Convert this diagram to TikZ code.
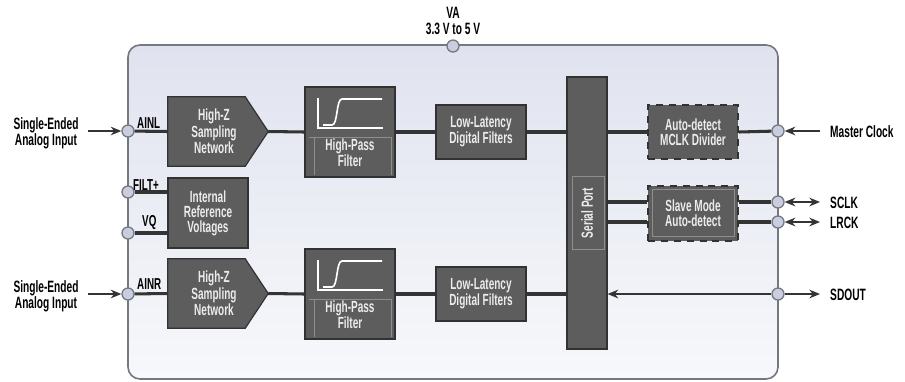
\documentclass[tikz,border=0pt]{standalone}
\usepackage{fontspec}
\setmainfont{Liberation Sans}[FakeStretch=0.62]
\usetikzlibrary{arrows.meta, positioning, calc}
\definecolor{blkfill}{RGB}{93, 93, 93}
\definecolor{blkedge}{RGB}{50, 50, 50}
\definecolor{blktext}{RGB}{236, 236, 236}
\definecolor{chipedge}{RGB}{118, 120, 128}
\definecolor{chiptop}{RGB}{224, 227, 239}
\definecolor{chipbot}{RGB}{247, 248, 251}
\definecolor{pinfill}{RGB}{200, 205, 224}
\definecolor{wirec}{RGB}{52, 52, 52}

\begin{document}
\begin{tikzpicture}[x=0.03cm, y=-0.03cm,
    lbl/.style={font=\fontsize{14}{13.8}\selectfont\bfseries, align=center, inner sep=0pt},
    plbl/.style={font=\fontsize{13.5}{13}\selectfont\bfseries, anchor=west, inner sep=0pt},
    blk/.style={draw=blkedge, fill=blkfill, line width=1pt, text=blktext,
        font=\fontsize{13.8}{12.8}\selectfont\bfseries, align=center, inner sep=0pt},
    dblk/.style={blk, line width=1.7pt, dash pattern=on 6pt off 5pt},
    inner/.style={draw=blkfill!70!white, line width=0.4pt},
    pin/.style={circle, draw=chipedge, fill=pinfill, line width=1.1pt, minimum size=0.36cm, inner sep=0pt},
    wire/.style={draw=wirec, line width=2.6pt},
    sig/.style={draw=wirec, line width=2.2pt, -{Stealth[length=0.32cm, width=0.26cm]}},
    icon/.style={draw=white, line width=1.4pt}
  ]
  \useasboundingbox (0,0) rectangle (905,381);

  % chip outline
  \draw[chipedge, line width=1.4pt, top color=chiptop, bottom color=chipbot, rounded corners=0.36cm]
    (128,45) rectangle (778,379);

  % blocks
  \node (hzL) [minimum width=3cm, minimum height=2.07cm, inner sep=0pt] at (218,131.5) {};
  \node (hzR) [minimum width=3cm, minimum height=2.07cm, inner sep=0pt] at (218,293.5) {};
  \foreach \h in {hzL,hzR} {
    \draw[blk] (\h.north west) -- ($(\h.north east)+(-23,0)$) -- (\h.east)
      -- ($(\h.south east)+(-23,0)$) -- (\h.south west) -- cycle;
    \node[blk, draw=none, fill=none] (\h t) at ($(\h.center)+(-4,0)$) {High-Z\\Sampling\\Network};
  }
  \node[blk, minimum width=2.7cm, minimum height=2.7cm] (hpfL) at (350,132) {};
  \node[blk, minimum width=2.7cm, minimum height=2.7cm] (hpfR) at (350,294) {};
  \foreach \f in {hpfL,hpfR} {
    \begin{scope}[shift={(\f.center)}]
      \draw[icon] (-32,-34) -- (-32,-4) -- (33,-4);
      \draw[icon] (-27,-7) -- (-18,-7) .. controls (-12,-7) and (-14,-33) .. (-8,-33) -- (32,-33);
      \draw[inner] (-41,5) -- (42,5);
      \draw[inner] (-36,5) -- (-36,43);
      \draw[inner] (41,5) -- (41,43);
    \end{scope}
    \node[blk, draw=none, fill=none] (\f t) at ($(\f.center)+(0,21)$) {High-Pass\\Filter};
  }
  \node[blk, minimum width=2.7cm, minimum height=1.62cm] (lldL) at (481,132) {Low-Latency\\Digital Filters};
  \node[blk, minimum width=2.7cm, minimum height=1.62cm] (lldR) at (481,294) {Low-Latency\\Digital Filters};
  \node[blk, minimum width=1.2cm, minimum height=8.16cm] (sp) at (587,213) {};
  \draw[inner] ($(sp.center)+(-15,-37)$) rectangle ($(sp.center)+(17,36)$);
  \node[blk, draw=none, fill=none, rotate=90] (spt) at (sp.center) {Serial Port};
  \node[dblk, minimum width=2.7cm, minimum height=1.62cm] (mclk) at (693,132) {Auto-detect\\MCLK Divider};
  \node[dblk, minimum width=2.7cm, minimum height=1.65cm] (slv) at (693,213) {};
  \draw[inner] ($(slv.north west)+(5,5)$) rectangle ($(slv.south east)+(-5,-5)$);
  \node[blk, draw=none, fill=none] (slvt) at (slv.center) {Slave Mode\\Auto-detect};
  \node[blk, minimum width=2.4cm, minimum height=2.1cm] (irv) at (208,213) {Internal\\Reference\\Voltages};

  % wires
  \draw[wire] (hzL.east) -- (hpfL.west);
  \draw[wire] (hpfL.east) -- (lldL.west);
  \draw[wire] (lldL.east) -- (sp.west |- lldL.east);
  \draw[wire] (sp.east |- mclk.west) -- (mclk.west);
  \draw[wire] (hzR.east) -- (hpfR.west);
  \draw[wire] (hpfR.east) -- (lldR.west);
  \draw[wire] (lldR.east) -- (sp.west |- lldR.east);

  % pins
  \node[pin] (pVA) at (453,46) {};
  \node[pin] (pAINL) at (128,131) {};
  \node[pin] (pFILT) at (128,192) {};
  \node[pin] (pVQ) at (128,233) {};
  \node[pin] (pAINR) at (128,294) {};
  \node[pin] (pMCLK) at (778,131) {};
  \node[pin] (pSCLK) at (778,202) {};
  \node[pin] (pLRCK) at (778,222) {};
  \node[pin] (pSDOUT) at (778,294) {};

  \draw[wire] (pAINL) -- (hzL.west);
  \draw[wire] (pAINR) -- (hzR.west);
  \draw[wire] (pFILT) -- (irv.west |- pFILT);
  \draw[wire] (pVQ) -- (irv.west |- pVQ);
  \draw[wire] (mclk.east) -- (pMCLK);
  \draw[wire] (sp.east |- pSCLK) -- (slv.west |- pSCLK);
  \draw[wire] (sp.east |- pLRCK) -- (slv.west |- pLRCK);
  \draw[wire] (slv.east |- pSCLK) -- (pSCLK);
  \draw[wire] (slv.east |- pLRCK) -- (pLRCK);
  \draw[sig, line width=2pt] (pSDOUT) -- (sp.east |- pSDOUT);

  % pin labels
  \node[plbl] (lAINL) at (137,123) {AINL};
  \node[plbl] (lFILT) at (133,185) {FILT+};
  \node[plbl] (lVQ) at (142,223) {VQ};
  \node[plbl] (lAINR) at (137,284) {AINR};

  % outside signals
  \node[lbl] (va) at (453,21) {VA\\3.3 V to 5 V};
  \node[lbl] (inL) at (46,133) {Single-Ended\\Analog Input};
  \node[lbl] (inR) at (46,296) {Single-Ended\\Analog Input};
  \coordinate (aL) at (88,131);
  \coordinate (aR) at (88,294);
  \draw[sig] (aL) -- (pAINL);
  \draw[sig] (aR) -- (pAINR);

  \node[lbl, anchor=west] (tMCLK) at (830,132) {Master Clock};
  \node[lbl, anchor=west] (tSCLK) at (830,203) {SCLK};
  \node[lbl, anchor=west] (tLRCK) at (830,223) {LRCK};
  \node[lbl, anchor=west] (tSDOUT) at (830,295) {SDOUT};
  \coordinate (cMCLK) at (820,131);
  \coordinate (cSCLK) at (820,202);
  \coordinate (cLRCK) at (820,222);
  \coordinate (cSDOUT) at (820,294);
  \draw[sig] (cMCLK) -- (pMCLK);
  \draw[sig, {Stealth[length=0.32cm, width=0.26cm]}-{Stealth[length=0.32cm, width=0.26cm]}] (pSCLK) -- (cSCLK);
  \draw[sig, {Stealth[length=0.32cm, width=0.26cm]}-{Stealth[length=0.32cm, width=0.26cm]}] (pLRCK) -- (cLRCK);
  \draw[sig] (pSDOUT) -- (cSDOUT);
\end{tikzpicture}
\end{document}
